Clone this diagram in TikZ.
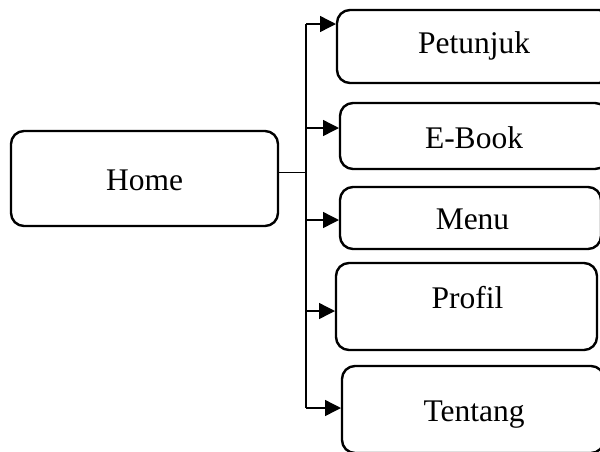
\documentclass[tikz,border=0pt]{standalone}
\usepackage{fontspec}
\setmainfont{Liberation Serif}
\usetikzlibrary{arrows.meta}

\tikzset{
  menubox/.style={draw=black, line width=2.4pt, rounded corners=13pt,
    inner sep=0pt, outer sep=0pt},
  boxtext/.style={anchor=base, inner sep=0pt, font=\fontsize{31.5}{36}\selectfont},
  link/.style={draw=black, line width=1.4pt},
  branch/.style={link, -{Triangle[length=16pt,width=16pt]}, shorten >=1pt},
}

\begin{document}
\begin{tikzpicture}[x=1pt, y=-1pt]
  \useasboundingbox (0,0) rectangle (600,451);
  \clip (0,0) rectangle (600,451);

  % boxes
  \node[menubox, minimum width=267pt, minimum height=95pt] (home)    at (144.5,178.5) {};
  \node[menubox, minimum width=275pt, minimum height=73pt] (pet)     at (474.5,46.5)  {};
  \node[menubox, minimum width=268pt, minimum height=66pt] (ebook)   at (474,136)     {};
  \node[menubox, minimum width=261pt, minimum height=62pt] (menu)    at (470.5,218)   {};
  \node[menubox, minimum width=261pt, minimum height=87pt] (profil)  at (466.5,306.5) {};
  \node[menubox, minimum width=262pt, minimum height=87pt] (tentang) at (473,409.5)   {};

  % labels
  \node[boxtext] (home-t)    at (144.5,190.5) {Home};
  \node[boxtext] (pet-t)     at (474,53)      {Petunjuk};
  \node[boxtext] (ebook-t)   at (474,148)     {E-Book};
  \node[boxtext] (menu-t)    at (472.5,229)   {Menu};
  \node[boxtext] (profil-t)  at (467.5,308)   {Profil};
  \node[boxtext] (tentang-t) at (474,421)     {Tentang};

  % branch points on the trunk
  \coordinate (b1) at (306,24);
  \coordinate (b2) at (306,128);
  \coordinate (b3) at (306,220);
  \coordinate (b4) at (306,311);
  \coordinate (b5) at (306,408);
  \coordinate (hj) at (306,172.5);

  % trunk
  \draw[link, line width=1.9pt] (home.east |- hj) -- (hj);
  \draw[link] (b1) -- (b5);

  % branches
  \draw[branch] (b1) -- (b1 -| pet.west);
  \draw[branch] (b2) -- (b2 -| ebook.west);
  \draw[branch] (b3) -- (b3 -| menu.west);
  \draw[branch] (b4) -- (b4 -| profil.west);
  \draw[branch] (b5) -- (b5 -| tentang.west);
\end{tikzpicture}
\end{document}
